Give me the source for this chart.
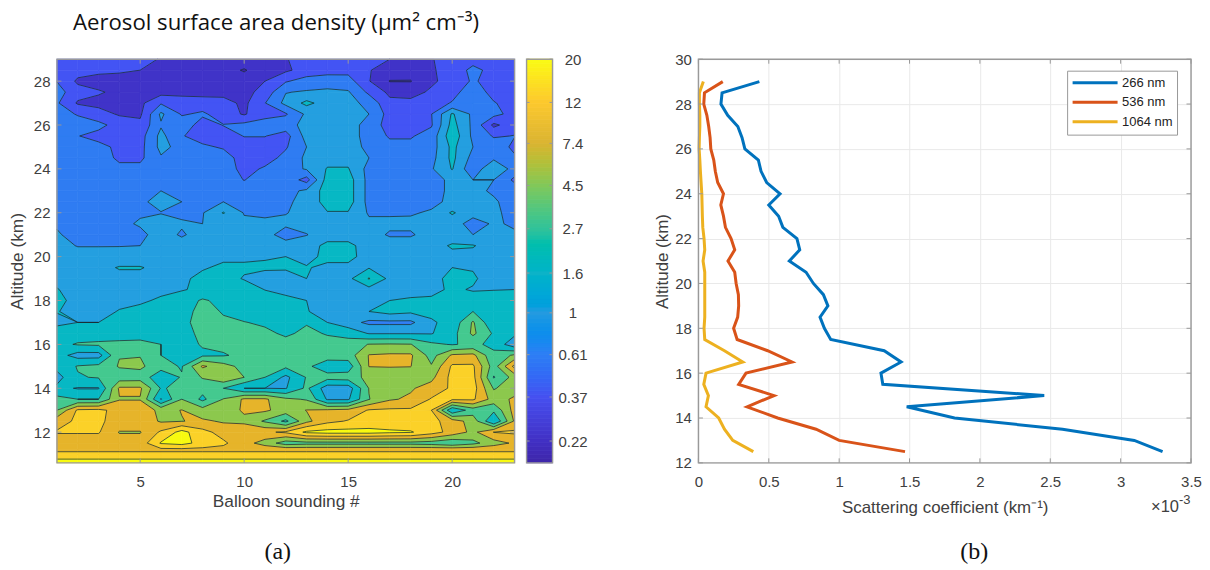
import numpy as np, pandas as pd, altair as alt
alt.data_transformers.disable_max_rows()

soundings = list(range(1, 24))
# Aerosol surface area density per altitude, soundings 1..23
v290 = [.5,.5,.5,.5,.42,.36,.3,.3,.3,.3,.32,.36,.45,.48,.48,.42,.37,.33,.36,.45,.5,.5,.5]
v285 = [.55,.45,.42,.4,.37,.3,.3,.29,.27,.21,.3,.34,.45,.5,.52,.38,.3,.28,.35,.45,.7,.52,.52]
v280 = [.6,.34,.3,.3,.3,.3,.3,.3,.3,.28,.37,.58,.75,.8,.75,.38,.215,.215,.34,.45,.65,.5,.5]
v275 = [.75,.45,.39,.33,.31,.31,.31,.31,.31,.31,.45,.98,1.05,1.1,1.05,.55,.33,.31,.4,.52,.8,.52,.5]
v270 = [.65,.35,.32,.31,.33,.58,.5,.47,.45,.33,.6,1.15,1.8,1.3,1.2,.85,.42,.42,.5,.63,.85,.63,.5]
v265 = [.8,.58,.45,.35,.34,1.1,.58,.66,.48,.35,.55,.58,1.1,1.3,1.35,1.0,.5,.5,.6,1.7,.9,.72,.5]
v260 = [.85,.8,.7,.5,.42,.95,.8,.5,.62,.7,.7,.8,1.2,1.3,1.3,.8,.5,.5,.58,1.9,.9,.33,.5]
v255 = [.9,.62,.52,.48,.5,1.15,.63,.5,.5,.62,.62,.5,1.2,1.3,1.3,.8,.58,.58,.75,2.2,.9,.58,.62]
v250 = [.9,.8,.7,.55,.52,1.15,.85,.66,.58,.5,.5,.58,1.0,1.3,1.35,.85,.7,.7,.8,1.8,1.0,.8,.55]
v245 = [.9,.9,.8,.55,.55,.95,.9,.85,.75,.5,.5,.7,1.1,1.35,1.35,1.0,.75,.75,.85,1.8,.85,.9,.65]
v240 = [.85,.85,.85,.7,.7,.85,.85,.85,.8,.52,.65,.8,1.05,1.65,1.65,.85,.75,.75,.95,1.65,.7,1.6,.8]
v235 = [.8,.8,.8,.8,.8,.85,.8,.8,.8,.6,.8,.85,.5,2,2,.85,.8,.8,.85,1.1,1.0,1.0,.55]
v230 = [.85,.85,.85,.85,.85,1.0,.85,.85,.85,.8,.85,.85,1.1,2,2,.85,.8,.8,.85,1.1,1.1,.95,.8]
v225 = [.85,.85,.85,.9,.9,1.2,1.0,.9,1.0,.9,.9,.95,1.1,2,2,.85,.85,.85,.9,1.1,1.15,1.05,.85]
v220 = [.85,.85,.9,.9,.95,.98,.92,.97,1.65,.97,.92,.98,1.15,1.55,1.55,.95,.95,.96,1.05,1.7,1.15,1.1,.85]
v215 = [.95,.85,.88,.9,1.05,1.2,1.05,1.0,1.25,1.1,1.1,1.1,1.2,1.3,1.3,1.1,1.1,1.1,1.2,1.2,.85,1.05,.95]
v210 = [1.05,.85,.88,.9,.9,1.2,.95,1.2,1.2,1.2,1.2,.8,.98,1.3,1.3,1.2,.95,.95,1.2,1.2,1.0,1.2,1.05]
v205 = [1.15,.98,.98,.98,1.0,1.2,1.2,1.25,1.3,1.3,1.3,1.25,1.3,1.8,1.8,1.3,1.25,1.25,1.3,1.7,1.65,1.3,1.2]
v200 = [1.3,1.2,1.2,1.25,1.25,1.25,1.3,1.4,1.5,1.5,1.55,1.6,1.4,1.8,1.8,1.35,1.3,1.3,1.3,1.4,1.4,1.35,1.3]
v195 = [1.4,1.35,1.4,1.65,1.65,1.4,1.45,1.55,1.7,1.7,1.7,1.7,1.65,1.45,1.45,1.55,1.35,1.35,1.4,1.6,1.55,1.4,1.35]
v190 = [1.35,1.3,1.35,1.4,1.4,1.45,1.5,1.75,1.9,1.55,1.35,1.3,1.6,1.4,1.4,2.8,1.4,1.4,1.4,1.8,1.7,1.3,1.3]
v185 = [1.65,1.25,1.3,1.35,1.4,1.45,1.55,1.75,2.1,2.0,1.58,1.4,1.45,1.35,1.35,1.35,1.35,1.35,1.45,1.7,1.55,1.58,1.6]
v180 = [1.9,1.3,1.3,1.4,1.5,1.7,2.0,2.9,2.3,2.2,2.0,1.8,1.6,1.3,1.3,1.3,1.6,1.7,1.7,1.8,1.9,1.9,1.9]
v175 = [1.65,1.3,1.35,1.65,1.8,1.9,2.2,3.2,2.6,2.2,2.1,2,1.65,1.3,1.3,1.6,1.9,1.75,1.8,2,2.7,2,1.9]
v170 = [1.35,1.6,1.6,1.9,2,2.1,2.4,3.2,2.9,2.75,2.5,2.3,2.6,1.6,1.2,.9,.9,.9,1.5,1.9,4.8,1.7,1.9]
v165 = [2.3,2.2,2.2,2.2,2.3,2.3,2.3,3,3,3,3,2.5,3,2.6,2.2,1.55,1.55,1.55,1.55,2.2,5,2.5,1.8]
v160 = [2.4,2.8,2.9,3,3,2.7,2.3,2.8,3,3.2,3.2,3.2,3.2,3.2,3.5,4.6,4.7,4.6,3,2.6,3,2.4,1.1]
v155 = [2,1.3,1.3,4.4,4.4,2.7,2.4,2.5,2.6,3,3.2,3.2,3.2,3.4,3.5,7.6,8,8,3.7,8,8.5,3,5]
v150 = [1.9,2.8,3.1,4.7,5,3.2,2.6,8,5.5,3.8,3.3,3,3,2,2,7.5,7.6,7.5,4.7,13,13,3.5,14]
v145 = [1.3,2.6,2.8,3.4,3.5,2,2.8,4.7,6.8,4.5,2.7,1.4,2.8,3.3,3.5,5.2,5.5,5.5,6.5,14,14,2.6,5.5]
v140 = [1.8,1.55,1.55,8,8,2.6,3,3.2,2.7,1.6,1.6,1.55,3,1.2,1.2,4.6,6,7,9,13,15,4.3,6]
v135 = [3.2,2.7,2.7,7.2,7.2,1.55,4.5,2.4,4.6,8,8,5,4.3,1.5,1.5,4.4,7,8,12.5,13,13,6,8]
v130 = [4.5,13,13.5,10,10,6.5,7.5,5.5,5.5,8,8,6,7.5,8,8.5,12.5,13,13,12,1.7,3.5,3,9]
v125 = [10,13,13,10,10,7,7.3,8,7,6.5,4.2,2.4,6.5,10.5,12.5,14,14,14,14,9.5,6,1.6,8]
v120 = [12.5,12.5,12.5,7.2,7.2,13,24,14,10,11,11,13,22,24,24,24,22,21,15,10,6.5,12.2,13]
v115 = [9,9,9,9,9,21,24,16.5,13,9,6,3.5,3.8,3.8,3.8,3.8,3.8,3.8,3.6,3,3.9,6,8]
v112 = [10.5]*23
v110 = [14]*23
v106 = [26]*23
grid_rows = [v106,v110,v112,v115,v120,v125,v130,v135,v140,v145,v150,v155,v160,v165,v170,v175,v180,v185,v190,
             v195,v200,v205,v210,v215,v220,v225,v230,v235,v240,v245,v250,v255,v260,v265,v270,v275,v280,v285,v290]
altitudes = [10.6,11,11.2,11.5,12,12.5,13,13.5,14,14.5,15,15.5,16,16.5,17,17.5,18,18.5,19,19.5,20,20.5,21,21.5,22,
             22.5,23,23.5,24,24.5,25,25.5,26,26.5,27,27.5,28,28.5,29]
levels = [0.22,0.37,0.61,1,1.6,2.7,4.5,7.4,12,20]
band_colors = ["#3a20a6","#4033c8","#4354f4","#2f7cf2","#249fe0","#07b8c4","#44c98f","#8cc84d","#e6b42a","#fbd128","#f8fa10"]

def clip(poly, lv, keep_above):
    out = []
    n = len(poly)
    for k in range(n):
        a, b = poly[k], poly[(k+1) % n]
        ina = a[2] >= lv if keep_above else a[2] <= lv
        inb = b[2] >= lv if keep_above else b[2] <= lv
        if ina:
            out.append(a)
        if ina != inb:
            t = (lv-a[2])/(b[2]-a[2])
            out.append((a[0]+t*(b[0]-a[0]), a[1]+t*(b[1]-a[1]), lv))
    return out

G = np.log10(np.array(grid_rows, float))
logL = [float(np.log10(l)) for l in levels]
edges = [-9.0]+logL+[9.0]
poly_rows, seg_rows = [], []
pid = 0
for r in range(len(altitudes)-1):
    for c in range(len(soundings)-1):
        q = [(soundings[c],altitudes[r],G[r,c]),(soundings[c+1],altitudes[r],G[r,c+1]),
             (soundings[c+1],altitudes[r+1],G[r+1,c+1]),(soundings[c],altitudes[r+1],G[r+1,c])]
        for b in range(len(edges)-1):
            p = clip(q, edges[b], True)
            if len(p) >= 3: p = clip(p, edges[b+1], False)
            if len(p) >= 3:
                for i, v in enumerate(p):
                    poly_rows.append((pid, i, b, round(v[0],3), round(v[1],3)))
                pid += 1
        for lv in logL:
            p = clip(q, lv, True)
            m = len(p)
            if 3 <= m:
                for k in range(m):
                    a, d = p[k], p[(k+1)%m]
                    if a[2]==lv and d[2]==lv:
                        seg_rows.append((round(a[0],3),round(a[1],3),round(d[0],3),round(d[1],3)))

polys = pd.DataFrame(poly_rows, columns=["p","i","band","s","a"])
segs = pd.DataFrame(seg_rows, columns=["s","a","s2","a2"])

FONT = "Liberation Sans"
TXT = "#404040"
FRAME = "#999999"
W, H = 458, 404
xs = alt.Scale(domain=[1,23], nice=False, zero=False)
ys = alt.Scale(domain=[10.6,29], nice=False, zero=False)

def ax(vals, title, **kw):
    return alt.Axis(values=vals, title=title, ticks=False, domain=False, grid=False, labelFont=FONT, labelFontSize=15, labelFlush=False,
                    labelColor=TXT, titleFont=FONT, titleFontSize=17.3, titleColor=TXT, titleFontWeight="normal", **kw)

x_tick_a = [5,10,15,20]
y_tick_a = [12,14,16,18,20,22,24,26,28]

def anchor(x0, x1, y0=-46, y1=510):
    return alt.Chart(pd.DataFrame({"k":[1]})).mark_rule(opacity=0, strokeWidth=0).encode(
        x=alt.value(x0), x2=alt.value(x1), y=alt.value(y0), y2=alt.value(y1))

def frame(w, h):
    return alt.Chart(pd.DataFrame({"k":[1]})).mark_rect(fill=None, stroke=FRAME, strokeWidth=1.4).encode(
        x=alt.value(0), x2=alt.value(w), y=alt.value(0), y2=alt.value(h))

def xticks(vals, scale, h, n=4.5):
    d = pd.DataFrame({"t":vals})
    return [alt.Chart(d).mark_rule(color=FRAME, strokeWidth=1).encode(x=alt.X("t:Q",scale=scale), y=alt.value(y0), y2=alt.value(y1))
            for y0,y1 in ((0,n),(h-n,h))]

def yticks(vals, scale, w, n=4.5):
    d = pd.DataFrame({"t":vals})
    return [alt.Chart(d).mark_rule(color=FRAME, strokeWidth=1).encode(y=alt.Y("t:Q",scale=scale), x=alt.value(x0), x2=alt.value(x1))
            for x0,x1 in ((0,n),(w-n,w))]

def label(text, x, y, size, font=FONT, color=TXT, align="left"):
    return alt.Chart(pd.DataFrame({"t":[text]})).mark_text(font=font, fontSize=size, color=color, align=align, baseline="middle").encode(
        text="t:N", x=alt.value(x), y=alt.value(y))

fills = alt.Chart(polys).mark_line(interpolate="linear-closed", filled=True, strokeWidth=0.7).encode(
    x=alt.X("s:Q", scale=xs, axis=ax(x_tick_a,"Balloon sounding #",labelPadding=12,titlePadding=3)),
    y=alt.Y("a:Q", scale=ys, axis=ax(y_tick_a,"Altitude (km)",labelPadding=7,titlePadding=7)),
    detail="p:N", order="i:Q",
    fill=alt.Fill("band:O", scale=alt.Scale(domain=list(range(11)), range=band_colors), legend=None),
    stroke=alt.Stroke("band:O", scale=alt.Scale(domain=list(range(11)), range=band_colors), legend=None))
lines = alt.Chart(segs).mark_rule(color="#1c2b33", strokeWidth=0.9, opacity=0.85).encode(
    x=alt.X("s:Q", scale=xs), x2="s2:Q", y=alt.Y("a:Q", scale=ys), y2="a2:Q")

left = alt.layer(fills, lines, *xticks(x_tick_a,xs,H), *yticks(y_tick_a,ys,W), frame(W,H),
                 label("Aerosol surface area density (µm² cm⁻³)", 16, -36, 22.2, font="Open Sans", color="#111111"),
                 label("(a)", 221, 493, 24, font="Liberation Serif", color="#111111", align="center"),
                 anchor(-47, 465)
                 ).properties(width=W, height=H)

# colour bar
cb_ticks = [0.22,0.37,0.61,1,1.6,2.7,4.5,7.4,12,20]
cb_dom = [0.17,0.22,0.37,0.61,1,1.6,2.7,4.5,7.4,12,20]
cb_col = ["#3e26a8","#4130c4","#4650f0","#2f7ef5","#249ae0","#0cb3c8","#30c29a","#80c85a","#dab432","#fcc82e","#f9fb15"]
cb_edges = np.geomspace(0.17,20,102)
cb = pd.DataFrame({"lo":cb_edges[:-1],"hi":cb_edges[1:],"v":np.sqrt(cb_edges[:-1]*cb_edges[1:])})
cys = alt.Scale(type="log", domain=[0.17,20], nice=False)
cb_scale = alt.Scale(type="log", domain=cb_dom, range=cb_col)
cb_rect = alt.Chart(cb).mark_rect(strokeWidth=0.8).encode(
    y=alt.Y("lo:Q", scale=cys, axis=alt.Axis(values=cb_ticks, orient="right", title=None, ticks=False, domain=False, grid=False,
            labelFont=FONT, labelFontSize=15, labelColor=TXT, labelAlign="center", labelPadding=20, format="~g", labelOverlap=False, labelFlush=False)),
    y2="hi:Q", x=alt.value(0), x2=alt.value(26),
    fill=alt.Fill("v:Q", scale=cb_scale, legend=None),
    stroke=alt.Stroke("v:Q", scale=cb_scale, legend=None))
cbar = alt.layer(cb_rect, *yticks(cb_ticks,cys,26,3), frame(26,H), anchor(-4.7, 125.3)).properties(width=26, height=H)

# line panel
alt_prof = [29,28.5,28,27.5,27,26.5,26,25.5,25,24.5,24,23.5,23,22.5,22,21.5,21,20.5,20,19.5,19,18.5,18,17.5,17,16.5,16,15.5,15,14.5,14,13.5,13,12.5]
s266 = [.433,.168,.16,.208,.28,.31,.33,.426,.445,.485,.58,.5,.57,.6,.70,.72,.646,.765,.817,.888,.92,.864,.895,.94,1.32,1.44,1.297,1.31,2.457,1.48,1.82,2.587,3.097,3.298]
s536 = [.173,.043,.038,.06,.073,.083,.088,.109,.12,.137,.178,.159,.178,.192,.232,.258,.21,.258,.268,.284,.286,.279,.25,.275,.492,.665,.338,.286,.537,.346,.563,.836,1.0,1.468]
s1064 = [.035,.007,.007,.01,.01,.007,.005,.01,.014,.019,.024,.026,.028,.031,.04,.045,.033,.045,.045,.045,.045,.045,.04,.045,.185,.315,.054,.038,.071,.054,.144,.185,.244,.39]
names = ["266 nm","536 nm","1064 nm"]
line_cols = ["#0072BD","#D95319","#EDB120"]
prof = pd.concat([pd.DataFrame({"alt":alt_prof,"val":v,"name":n,"i":range(len(v))}) for n,v in zip(names,(s266,s536,s1064))])
WR = 493
rx = alt.Scale(domain=[0,3.5], nice=False, zero=True)
ry = alt.Scale(domain=[12,30], nice=False, zero=False)
x_tick_b = [0,.5,1,1.5,2,2.5,3,3.5]
y_tick_b = [12,14,16,18,20,22,24,26,28,30]
def axg(vals,title,**kw):
    return alt.Axis(values=vals, title=title, ticks=False, domain=False, grid=True, gridColor="#e9e9e9", gridWidth=1, labelFont=FONT, labelFontSize=15, labelFlush=False,
                    labelColor=TXT, titleFont=FONT, titleFontSize=16.9, titleColor=TXT, titleFontWeight="normal", format="~g", **kw)
plines = alt.Chart(prof).mark_line(strokeWidth=3).encode(
    x=alt.X("val:Q", scale=rx, axis=axg(x_tick_b,"Scattering coefficient (km⁻¹)",labelPadding=12,titlePadding=10)),
    y=alt.Y("alt:Q", scale=ry, axis=axg(y_tick_b,"Altitude (km)",labelPadding=7,titlePadding=3)),
    order="i:Q",
    color=alt.Color("name:N", scale=alt.Scale(domain=names, range=line_cols),
        legend=alt.Legend(orient="none", legendX=369, legendY=11.5, title=None, symbolType="stroke", symbolSize=2025, symbolStrokeWidth=3,
                          strokeColor="#999999", fillColor="white", padding=4, labelFont=FONT, labelFontSize=13, labelColor="#222222",
                          rowPadding=3.6, labelOffset=3, clipHeight=16)))
right = alt.layer(plines, *xticks(x_tick_b,rx,H), *yticks(y_tick_b,ry,WR), frame(WR,H),
                  label("×10", 453, 448, 16.5),
                  label("-3", 481, 441, 13),
                  label("(b)", 276, 493, 24, font="Liberation Serif", color="#111111", align="center"),
                  anchor(-46, WR+5)
                  ).properties(width=WR, height=H)

chart = alt.hconcat(left, cbar, right, spacing=0).resolve_scale(color="independent", fill="independent", stroke="independent").configure_view(stroke=None).properties(
    padding={"left":0,"top":4,"right":0,"bottom":0})
chart.save("out.html", embed_options={"renderer": "svg", "actions": False})
